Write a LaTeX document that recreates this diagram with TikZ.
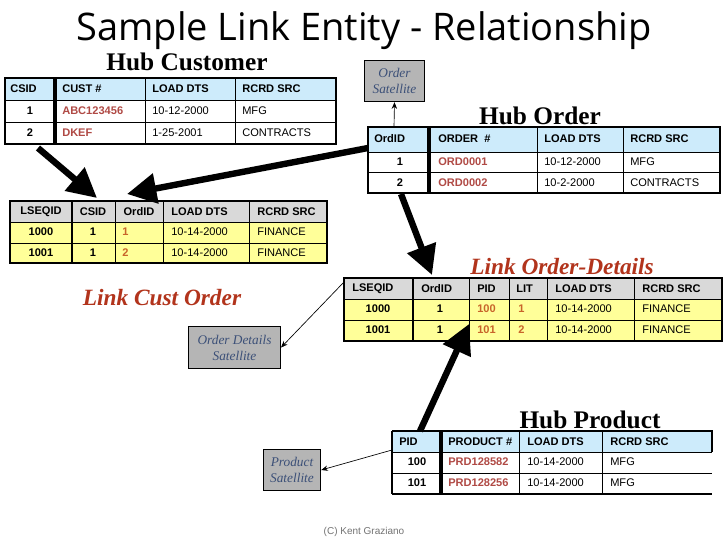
\documentclass[tikz,border=0pt]{standalone}
\usepackage{fontspec}
\setmainfont{Liberation Serif}
\setsansfont{Liberation Sans}
\newfontfamily\titlefont{Open Sans}
\usetikzlibrary{arrows.meta}
\definecolor{hubblue}{HTML}{CDEBFB}
\definecolor{lgray}{HTML}{D9D9D9}
\definecolor{lyel}{HTML}{FFFF99}
\definecolor{valred}{HTML}{B04A45}
\definecolor{valor}{HTML}{C8642A}
\definecolor{satgray}{HTML}{B5B5B5}
\definecolor{sattxt}{HTML}{3C5078}
\definecolor{linkred}{HTML}{B2341C}
\newcounter{cellc}
\newcommand\cell[4]{\stepcounter{cellc}\node[cellt,#4] (cell\arabic{cellc}) at (#1,#2) {#3};}
\tikzset{
 cellt/.style={inner sep=0pt,font=\sffamily\fontsize{8.3}{9}\selectfont},
 L/.style={anchor=west},
 B/.style={font=\sffamily\bfseries\fontsize{8.3}{9}\selectfont},
 R/.style={text=valred},
 O/.style={text=valor},
 thin grid/.style={line width=0.6pt},
 bigarrow/.style={line width=4.8pt,-{Triangle[length=22pt,width=22pt]}},
 smallarrow/.style={line width=0.5pt,-{Stealth[length=5pt,width=4pt]}},
 sat/.style={draw,line width=0.8pt,fill=satgray,text=sattxt,font=\itshape\fontsize{10}{12}\selectfont,align=center,inner sep=0pt},
 hubt/.style={font=\bfseries\fontsize{19}{21}\selectfont},
 linkt/.style={text=linkred,font=\bfseries\itshape\fontsize{17.5}{20}\selectfont},
}
\begin{document}
\begin{tikzpicture}[x=0.75pt,y=-0.75pt]
\useasboundingbox (0,0) rectangle (728,546);
\fill[white] (0,0) rectangle (728,546);
\node[font=\titlefont\fontsize{28.5}{32}\selectfont] (title) at (364,31) {Sample Link Entity - Relationship};

% ---- Hub Customer
\node[hubt] (hct) at (187,62) {Hub Customer};
\fill[hubblue] (5,78) rectangle (336,100);
\draw[thin grid] (5,100) -- (336,100) (5,122) -- (336,122) (145,78) -- (145,144) (235,78) -- (235,144);
\draw[line width=3pt] (55,78) -- (55,144);
\draw[line width=1.4pt] (5,78) rectangle (336,144);
\cell{10}{89}{CSID}{L,B}\cell{62}{89}{CUST \#}{L,B}\cell{152}{89}{LOAD DTS}{L,B}\cell{242}{89}{RCRD SRC}{L,B}
\cell{30}{111}{1}{B}\cell{62}{111}{ABC123456}{L,B,R}\cell{152}{111}{10-12-2000}{L}\cell{242}{111}{MFG}{L}
\cell{30}{133}{2}{B}\cell{62}{133}{DKEF}{L,B,R}\cell{152}{133}{1-25-2001}{L}\cell{242}{133}{CONTRACTS}{L}
\coordinate (hcout) at (38,148);

% ---- Link Cust Order
\fill[lgray] (10,201) rectangle (327,222);
\fill[lyel] (10,222) rectangle (327,263);
\draw[thin grid] (10,222) -- (327,222) (10,243) -- (327,243) (115,201) -- (115,263) (163,201) -- (163,263) (249,201) -- (249,263);
\draw[line width=1.2pt] (72,201) -- (72,263);
\draw[line width=1.4pt] (10,201) rectangle (327,263);
\cell{41}{212}{LSEQID}{B}\cell{93}{212}{CSID}{B}\cell{139}{212}{OrdID}{B}\cell{171}{212}{LOAD DTS}{L,B}\cell{257}{212}{RCRD SRC}{L,B}
\cell{41}{232}{1000}{B}\cell{93}{232}{1}{B}\cell{122}{232}{1}{L,B,O}\cell{171}{232}{10-14-2000}{L}\cell{257}{232}{FINANCE}{L}
\cell{41}{253}{1001}{B}\cell{93}{253}{1}{B}\cell{122}{253}{2}{L,B,O}\cell{171}{253}{10-14-2000}{L}\cell{257}{253}{FINANCE}{L}
\coordinate (lcin1) at (97,198);
\coordinate (lcin2) at (127,194);
\node[linkt] (lct) at (162,298) {Link Cust Order};

% ---- Order Satellite
\node[sat,minimum width=45pt,minimum height=31pt] (osat) at (394.5,81) {Order\\Satellite};

% ---- Hub Order
\node[hubt] (hot) at (540,116) {Hub Order};
\fill[hubblue] (368,127) rectangle (720,152);
\draw[thin grid] (368,152) -- (720,152) (368,172) -- (720,172) (537,127) -- (537,193) (623,127) -- (623,193);
\draw[line width=3pt] (429,127) -- (429,193);
\draw[line width=1.4pt] (368,127) rectangle (720,193);
\cell{374}{139}{OrdID}{L,B}\cell{438}{139}{ORDER~~\#}{L,B}\cell{544}{139}{LOAD DTS}{L,B}\cell{630}{139}{RCRD SRC}{L,B}
\cell{400}{162}{1}{B}\cell{438}{162}{ORD0001}{L,B,R}\cell{544}{162}{10-12-2000}{L}\cell{630}{162}{MFG}{L}
\cell{400}{183}{2}{B}\cell{438}{183}{ORD0002}{L,B,R}\cell{544}{183}{10-2-2000}{L}\cell{630}{183}{CONTRACTS}{L}
\coordinate (hoout1) at (368,148);
\coordinate (hoout2) at (401,194);
\coordinate (hotop) at (394,127);

% ---- Link Order-Details
\node[linkt] (lot) at (562,267) {Link Order-Details};
\fill[lgray] (344,278) rectangle (722,299);
\fill[lyel] (344,299) rectangle (722,341);
\draw[thin grid] (344,299) -- (722,299) (344,320) -- (722,320) (469,278) -- (469,341) (509,278) -- (509,341) (547,278) -- (547,341) (634,278) -- (634,341);
\draw[line width=1.6pt] (413,278) -- (413,341);
\draw[line width=1.4pt] (344,278) rectangle (722,341);
\cell{352}{289}{LSEQID}{L,B}\cell{421}{289}{OrdID}{L,B}\cell{477}{289}{PID}{L,B}\cell{516}{289}{LIT}{L,B}\cell{555}{289}{LOAD DTS}{L,B}\cell{642}{289}{RCRD SRC}{L,B}
\cell{378}{309}{1000}{B}\cell{440}{309}{1}{B}\cell{477}{309}{100}{L,B,O}\cell{518}{309}{1}{L,B,O}\cell{555}{309}{10-14-2000}{L}\cell{642}{309}{FINANCE}{L}
\cell{378}{330}{1001}{B}\cell{440}{330}{1}{B}\cell{477}{330}{101}{L,B,O}\cell{518}{330}{2}{L,B,O}\cell{555}{330}{10-14-2000}{L}\cell{642}{330}{FINANCE}{L}
\coordinate (loin1) at (432,275);
\coordinate (loin2) at (469,324);
\coordinate (losat) at (344,282);

% ---- Order Details Satellite
\node[sat,minimum width=69pt,minimum height=31pt] (odsat) at (234.5,347.5) {Order Details\\Satellite};

% ---- Hub Product
\node[hubt] (hpt) at (590,420) {Hub Product};
\fill[hubblue] (392,431) rectangle (712,452);
\draw[thin grid] (392,452) -- (712,452) (392,473) -- (712,473) (519,431) -- (519,494) (602,431) -- (602,494);
\draw[line width=3pt] (441,431) -- (441,494);
\draw[line width=1.4pt] (392,431) -- (712,431) -- (712,452) (392,494) -- (712,494) (392,431) -- (392,494);
\cell{399}{442}{PID}{L,B}\cell{448}{442}{PRODUCT \#}{L,B}\cell{527}{442}{LOAD DTS}{L,B}\cell{610}{442}{RCRD SRC}{L,B}
\cell{417}{462}{100}{B}\cell{448}{462}{PRD128582}{L,B,R}\cell{527}{462}{10-14-2000}{L}\cell{610}{462}{MFG}{L}
\cell{417}{483}{101}{B}\cell{448}{483}{PRD128256}{L,B,R}\cell{527}{483}{10-14-2000}{L}\cell{610}{483}{MFG}{L}
\coordinate (hpout) at (420,431);
\coordinate (hpsat) at (392,450);

% ---- Product Satellite
\node[sat,minimum width=43pt,minimum height=31pt] (psat) at (292,470) {Product\\Satellite};

\node[font=\sffamily\fontsize{7.5}{8}\selectfont,text=black!55] (copy) at (364,532) {(C) Kent Graziano};

% ---- arrows
\draw[bigarrow] (hcout) -- (lcin1);
\draw[bigarrow] (hoout1) -- (lcin2);
\draw[bigarrow] (hoout2) -- (loin1);
\draw[bigarrow] (hpout) -- (loin2);
\draw[smallarrow] (hotop) -- (osat.south);
\draw[smallarrow] (losat) -- (odsat.east);
\draw[smallarrow] (hpsat) -- (psat.east);
\end{tikzpicture}
\end{document}
